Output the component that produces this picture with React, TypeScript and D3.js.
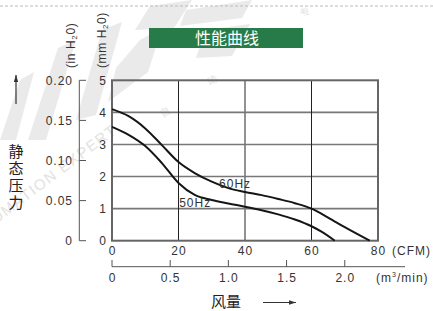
import React, { useRef, useEffect } from "react";
import * as d3 from "d3";

// flow (CFM) / static pressure (mm H2O)
const cfm60 = [0, 5, 10, 15, 20, 25, 30, 35, 40, 45, 50, 55, 60, 65, 70, 77.5];
const p60 = [4.1, 3.88, 3.5, 2.98, 2.45, 2.1, 1.84, 1.64, 1.52, 1.42, 1.3, 1.17, 1.0, 0.72, 0.42, 0];
const cfm50 = [0, 5, 10, 15, 20, 25, 30, 35, 40, 45, 50, 55, 60, 63, 67];
const p50 = [3.55, 3.3, 2.95, 2.42, 1.8, 1.42, 1.27, 1.16, 1.06, 0.95, 0.82, 0.66, 0.45, 0.28, 0];

const cfmTicks = [0, 20, 40, 60, 80];
const mmTicks = [0, 1, 2, 3, 4, 5];
const inTicks = [0, 0.05, 0.1, 0.15, 0.2];
const m3Ticks = [0, 0.5, 1.0, 1.5, 2.0];
const m3Labels = ["0", "0.5", "1.0", "1.5", "2.0"];
const inLabels = ["0", "0.05", "0.10", "0.15", "0.20"];

const W = 433;
const H = 311;
const margin = { left: 112, right: 55, top: 80.3, bottom: 70.3 };
const numFont = "'Liberation Sans', Arial, sans-serif";
const cjkFont = "'Noto Sans CJK SC', sans-serif";

function App() {
  const svgRef = useRef<SVGSVGElement>(null);

  useEffect(() => {
    const svg = d3.select(svgRef.current);
    svg.selectAll("*").remove();

    const x = d3.scaleLinear().domain([0, 80]).range([margin.left, W - margin.right]);
    const y = d3.scaleLinear().domain([0, 5]).range([H - margin.bottom, margin.top]);
    const yIn = d3.scaleLinear().domain([0, 0.2]).range([H - margin.bottom, margin.top]);
    const xM = d3.scaleLinear().domain([0, 80 / 35.0]).range([margin.left, W - margin.right]);

    // watermark
    const wm = svg.append("g").attr("fill", "#eaeaea");
    const stripes = [
      [[20, 80], [34, 72], [16, 140], [0, 140]],
      [[58, 48], [76, 40], [46, 140], [28, 140]],
      [[102, 30], [122, 22], [96, 115], [76, 120]],
      [[140, 40], [162, 28], [148, 72], [108, 102], [116, 68]],
      [[150, 6], [192, 0], [174, 28], [135, 30]],
      [[186, 10], [252, 0], [242, 18], [180, 26]],
      [[205, 30], [250, 24], [232, 56], [196, 58]],
    ];
    stripes.forEach((s) => wm.append("polygon").attr("points", s.map((p) => p.join(",")).join(" ")));
    wm.append("text")
      .attr("transform", "translate(118,132) rotate(-37)")
      .attr("text-anchor", "end")
      .attr("font-family", numFont)
      .attr("font-size", 15)
      .attr("letter-spacing", 1.5)
      .attr("fill", "#e2e2e2")
      .text("AUTOMATION EXPERT");
    [["自", 163, 118], ["动", 210, 86], ["化", 268, 48], ["专", 303, 18]].forEach(([t, tx, ty]) =>
      wm.append("text")
        .attr("transform", `translate(${tx},${ty}) rotate(-35)`)
        .attr("font-family", cjkFont)
        .attr("font-size", 10)
        .attr("fill", "#e4e4e4")
        .text(t as string)
    );

    // dashed top rule
    svg.append("line")
      .attr("x1", 0).attr("x2", W).attr("y1", 6).attr("y2", 6)
      .attr("stroke", "#bbb").attr("stroke-dasharray", "3,2");

    // title
    svg.append("rect")
      .attr("x", 149).attr("y", 28).attr("width", 154).attr("height", 20)
      .attr("fill", "#277b49");
    svg.append("text")
      .attr("x", 227).attr("y", 44)
      .attr("text-anchor", "middle")
      .attr("font-family", cjkFont)
      .attr("font-size", 16)
      .attr("fill", "#fff")
      .text("性能曲线");

    const grid = svg.append("g");
    // horizontal grid
    grid.selectAll(".hg").data(mmTicks.slice(1, -1)).join("line")
      .attr("x1", x(0)).attr("x2", x(80))
      .attr("y1", (d) => y(d)).attr("y2", (d) => y(d))
      .attr("stroke", "#777").attr("stroke-width", 1.6);
    // vertical grid
    grid.selectAll(".vg").data(cfmTicks.slice(1, -1)).join("line")
      .attr("x1", (d) => x(d)).attr("x2", (d) => x(d))
      .attr("y1", y(0)).attr("y2", y(5))
      .attr("stroke", (d) => (d === 40 ? "#777" : "#222"))
      .attr("stroke-width", (d) => (d === 40 ? 1.6 : 1));
    grid.append("rect")
      .attr("x", x(0)).attr("y", y(5))
      .attr("width", x(80) - x(0)).attr("height", y(0) - y(5))
      .attr("fill", "none").attr("stroke", "#666").attr("stroke-width", 2);

    // curves
    const line = d3.line<[number, number]>()
      .x((d) => x(d[0]))
      .y((d) => y(d[1]))
      .curve(d3.curveMonotoneX);
    const curves = svg.append("g").attr("fill", "none").attr("stroke", "#151515").attr("stroke-width", 2);
    curves.append("path").attr("d", line(cfm60.map((c, i) => [c, p60[i]]) as [number, number][]));
    curves.append("path").attr("d", line(cfm50.map((c, i) => [c, p50[i]]) as [number, number][]));

    const txt = (g: any) =>
      g.attr("font-family", numFont).attr("font-size", 12).attr("letter-spacing", 1).attr("fill", "#333");

    svg.append("text").call(txt).attr("x", x(32.2)).attr("y", y(1.64)).text("60Hz");
    svg.append("text").call(txt).attr("x", x(20.2)).attr("y", y(1.04)).text("50Hz");

    // mm H2O labels
    svg.append("g").selectAll("text").data(mmTicks).join("text").call(txt)
      .attr("x", 107).attr("y", (d) => y(d) + 4.3)
      .attr("text-anchor", "end")
      .text((d) => d);

    // in H2O axis
    const inAxis = svg.append("g");
    inAxis.append("line")
      .attr("x1", 79.3).attr("x2", 79.3).attr("y1", yIn(0)).attr("y2", yIn(0.2))
      .attr("stroke", "#555");
    inAxis.selectAll("line.t").data(inTicks).join("line")
      .attr("x1", 79.3).attr("x2", 86).attr("y1", (d) => yIn(d)).attr("y2", (d) => yIn(d))
      .attr("stroke", "#555");
    inAxis.selectAll("text").data(inTicks).join("text").call(txt)
      .attr("x", 73).attr("y", (d) => yIn(d) + 4.3)
      .attr("text-anchor", "end")
      .text((d, i) => inLabels[i]);

    // CFM labels
    svg.append("g").selectAll("text").data(cfmTicks).join("text").call(txt)
      .attr("x", (d) => x(d) + 0.5).attr("y", 254.5)
      .attr("text-anchor", "middle")
      .text((d) => d);
    svg.append("text").call(txt).attr("x", 392).attr("y", 254.5).text("(CFM)");

    // m3/min axis
    const mAxis = svg.append("g");
    mAxis.append("line")
      .attr("x1", xM(0)).attr("x2", 405).attr("y1", 266.7).attr("y2", 266.7)
      .attr("stroke", "#555");
    mAxis.selectAll("line.t").data(m3Ticks).join("line")
      .attr("x1", (d) => xM(d)).attr("x2", (d) => xM(d))
      .attr("y1", 260).attr("y2", 266.7)
      .attr("stroke", "#555");
    mAxis.selectAll("text").data(m3Ticks).join("text").call(txt)
      .attr("x", (d) => xM(d) + 0.5).attr("y", 281.6)
      .attr("text-anchor", "middle")
      .text((d, i) => m3Labels[i]);
    const mu = svg.append("text").call(txt).attr("x", 376).attr("y", 281.6);
    mu.append("tspan").text("(m");
    mu.append("tspan").attr("font-size", 7).attr("dy", -4.5).text("3");
    mu.append("tspan").attr("dy", 4.5).text("/min)");

    // rotated unit labels
    const rot = (tx: number, unit: string) => {
      const t = svg.append("text").call(txt)
        .attr("letter-spacing", 0.6)
        .attr("transform", `translate(${tx},68) rotate(-90)`);
      t.append("tspan").text(`(${unit} H`);
      t.append("tspan").attr("font-size", 8).attr("dy", 2).text("2");
      t.append("tspan").attr("dy", -2).text("0)");
    };
    rot(74.5, "in");
    rot(106, "mm");

    // axis titles
    const arrow = (x1: number, y1: number, x2: number, y2: number) => {
      svg.append("line")
        .attr("x1", x1).attr("y1", y1).attr("x2", x2).attr("y2", y2)
        .attr("stroke", "#333").attr("stroke-width", 1.2);
      const a = Math.atan2(y2 - y1, x2 - x1);
      const l = 7, w = 2.2;
      const p = [
        [x2, y2],
        [x2 - l * Math.cos(a) - w * Math.sin(a), y2 - l * Math.sin(a) + w * Math.cos(a)],
        [x2 - l * Math.cos(a) + w * Math.sin(a), y2 - l * Math.sin(a) - w * Math.cos(a)],
      ];
      svg.append("polygon").attr("points", p.map((q) => q.join(",")).join(" ")).attr("fill", "#333");
    };
    arrow(16, 104, 16, 75);
    arrow(263, 302.5, 296, 302.5);

    svg.append("text")
      .attr("x", 16).attr("y", 144)
      .style("writing-mode", "vertical-rl")
      .style("text-orientation", "upright")
      .attr("letter-spacing", 2)
      .attr("font-family", cjkFont)
      .attr("font-size", 15)
      .attr("fill", "#222")
      .text("静态压力");
    svg.append("text")
      .attr("x", 226).attr("y", 306.5)
      .attr("text-anchor", "middle")
      .attr("font-family", cjkFont)
      .attr("font-size", 15)
      .attr("fill", "#222")
      .text("风量");
  }, []);

  return (
    <svg
      ref={svgRef}
      width={W}
      height={H}
      style={{ position: "absolute", left: 0, top: 0, background: "#fff" }}
    ></svg>
  );
}

export default App;
